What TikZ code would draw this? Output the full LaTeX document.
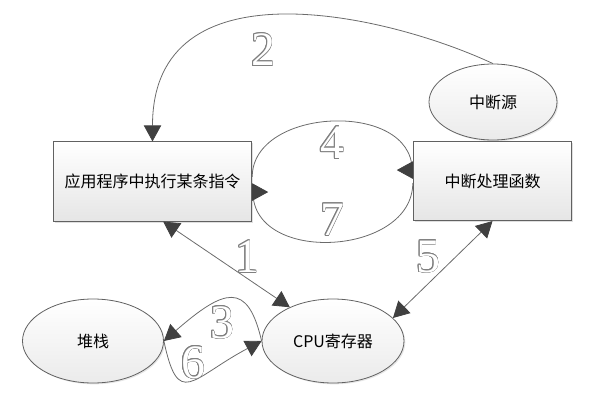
\documentclass[tikz,border=0pt]{standalone}
\usepackage{fontspec}
\setmainfont{Noto Sans CJK SC}
\newfontfamily\numfont{Liberation Serif}
\usepackage{contour}
\contourlength{0.5pt}
\usetikzlibrary{arrows.meta,shapes.geometric,shadows}

\begin{document}
\begin{tikzpicture}[x=0.75pt,y=0.75pt,
    >={Triangle[length=12pt,width=13pt,color=black!75]},
    box/.style={draw=black!62, line width=0.6pt, top color=white, bottom color=gray!20,
        minimum height=59.5pt, font=\fontsize{12}{14}\selectfont,
        drop shadow={shadow xshift=1pt, shadow yshift=-1pt, opacity=0.25}},
    oval/.style={ellipse, draw=black!62, line width=0.6pt, top color=white, bottom color=gray!16,
        inner sep=1pt, font=\fontsize{12}{14}\selectfont,
        drop shadow={shadow xshift=1pt, shadow yshift=-1pt, opacity=0.2}},
    conn/.style={draw=black!58, line width=0.6pt},
    num/.style={font=\numfont\fontsize{36}{36}\selectfont, text=white, inner sep=0pt}]

    \useasboundingbox (0,0) rectangle (597,405);

    \node[box, minimum width=149pt] (app) at (152.5,223.5) {应用程序中执行某条指令};
    \node[box, minimum width=119pt] (isr) at (492.5,224) {中断处理函数};
    \node[oval, minimum width=96pt, minimum height=57pt] (src) at (493,303) {中断源};
    \node[oval, minimum width=105.75pt, minimum height=63pt] (stack) at (93,64) {堆栈};
    \node[oval, minimum width=106.5pt, minimum height=63pt] (cpu) at (333,64) {CPU寄存器};

    \draw[conn, <->] ([xshift=8pt]app.south) -- (cpu.142);
    \draw[conn, <->] (isr.south) -- (cpu.21);
    \draw[conn, ->] (src.north) .. controls +(155:120) and +(90:180) .. (app.north);
    \draw[conn, -{Triangle[length=12pt,width=13pt,color=black!75,reversed]}]
        ([yshift=3.4pt]app.east) .. controls +(0,70) and +(0,70) .. ([xshift=-0.5pt,yshift=8.2pt]isr.west) -- ([yshift=8.2pt]isr.west);
    \draw[conn, -{Triangle[length=12pt,width=13pt,color=black!75,reversed]}]
        ([yshift=-1.5pt]isr.west) .. controls +(0,-73) and +(0,-73) .. ([xshift=0.5pt,yshift=-7.9pt]app.east) -- ([yshift=-7.9pt]app.east);
    \draw[conn, ->] (cpu.west) .. controls +(103:62) and +(41:80) .. (stack.east);
    \draw[conn, ->] (stack.east) .. controls +(-78:70) and +(208:80) .. (cpu.west);

    \node[num] (n1) at (247,148) {\contour{gray}{1}};
    \node[num] (n2) at (263,355) {\contour{gray}{2}};
    \node[num] (n3) at (222,82) {\contour{gray}{3}};
    \node[num] (n4) at (332,262) {\contour{gray}{4}};
    \node[num] (n5) at (428,148) {\contour{gray}{5}};
    \node[num] (n6) at (193,42) {\contour{gray}{6}};
    \node[num] (n7) at (332,185) {\contour{gray}{7}};
\end{tikzpicture}
\end{document}
